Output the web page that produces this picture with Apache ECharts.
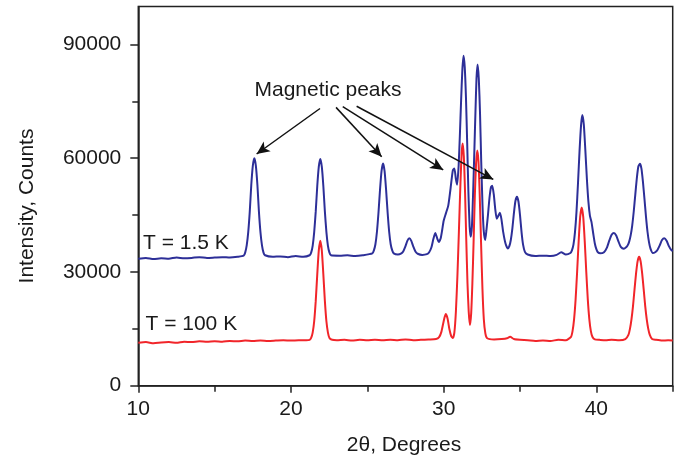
<!DOCTYPE html>
<html>
<head>
<meta charset="utf-8">
<script src="https://cdn.jsdelivr.net/npm/echarts@6/dist/echarts.min.js"></script>
<style>
html,body{margin:0;padding:0;background:#fff;}
#chart{width:681px;height:458px;}
</style>
</head>
<body>
<div id="chart"></div>
<script>
// ---- data ----
const xTickValues = [10, 20, 30, 40];
const xMinorTickValues = [15, 25, 35, 45];
const yTickValues = [0, 30000, 60000, 90000];
const yMinorTickValues = [15000, 45000, 75000];

const seriesNames = ['T = 1.5 K', 'T = 100 K'];

// T = 1.5 K  [2theta, counts]
const blue15K = [
  [10.0,33500],[10.5,33700],[11.0,33400],[11.5,33600],[12.0,33500],[12.5,33800],[13.0,33600],[13.5,33700],
  [14.0,33900],[14.5,33700],[15.0,33800],[15.5,33900],[16.0,33800],[16.5,34000],[16.9,34300],
  [17.0,35100],[17.1,37000],[17.2,40500],[17.3,45900],[17.4,53000],[17.5,58000],[17.6,60000],[17.7,58000],[17.8,53000],[17.9,45900],[18.0,40500],[18.1,37000],[18.2,35100],[18.3,34400],
  [18.8,34000],[19.3,34100],[19.8,33900],[20.3,34200],[20.8,34000],[21.22,34400],
  [21.32,35100],[21.42,36900],[21.52,40500],[21.62,45900],[21.72,52600],[21.82,57700],[21.92,59800],[22.02,57700],[22.12,52600],[22.22,45900],[22.32,40500],[22.42,36900],[22.52,35100],[22.62,34400],
  [23.2,34300],[23.7,34400],[24.2,34200],[24.7,34400],[25.33,34900],
  [25.43,35700],[25.53,37300],[25.63,40600],[25.73,45600],[25.83,51600],[25.93,56600],[26.03,58600],[26.13,56600],[26.23,51600],[26.33,45600],[26.43,40600],[26.53,37300],[26.63,35700],[26.73,34900],[27.0,34600],
  [27.2,34800],[27.35,35400],[27.5,36800],[27.62,38200],[27.75,38900],[27.88,38200],[28.0,36800],[28.15,35400],[28.3,34800],[28.6,34500],[28.9,34700],
  [29.05,35200],[29.2,36500],[29.32,38600],[29.45,40300],[29.58,38800],[29.68,37900],
  [29.8,38800],[29.9,41000],[30.0,43500],[30.15,45500],[30.3,47500],[30.45,52000],[30.6,56800],[30.7,57300],[30.8,54500],[30.88,53000],
  [30.98,58000],[31.06,66000],[31.14,75000],[31.22,83000],[31.3,87000],[31.38,84000],[31.46,76000],[31.54,64000],[31.62,51000],[31.7,42000],[31.77,39300],
  [31.85,42000],[31.93,51000],[32.01,62000],[32.08,72000],[32.15,81000],[32.22,84700],[32.3,81000],[32.38,72000],[32.46,59000],[32.54,48000],[32.62,41000],[32.72,38400],
  [32.8,41000],[32.9,45000],[33.0,49500],[33.1,52400],[33.18,52700],[33.28,50500],[33.38,46500],[33.48,44000],[33.58,44800],[33.68,45600],[33.78,44000],[33.9,40500],[34.05,37500],[34.2,36200],
  [34.3,36800],[34.4,38500],[34.5,41500],[34.6,45500],[34.7,48700],[34.8,49800],[34.9,48500],[35.0,45000],[35.1,40500],[35.2,37200],[35.32,35300],[35.5,34600],
  [36.0,34200],[36.5,34300],[37.0,34200],[37.4,34500],[37.7,35200],[38.0,34600],[38.3,35000],
  [38.4,35700],[38.5,37200],[38.6,40500],[38.7,45900],[38.8,53600],[38.9,62000],[39.0,68800],[39.08,71400],[39.18,68800],[39.28,62000],[39.38,54500],[39.48,48500],[39.58,44800],[39.68,43200],[39.8,40000],[39.9,37500],[40.0,36000],[40.1,35200],[40.25,34900],
  [40.5,35200],[40.7,36500],[40.85,38300],[41.0,39800],[41.15,40300],[41.3,39600],[41.45,38000],[41.6,36600],[41.8,36100],[41.95,36500],
  [42.05,37000],[42.15,38000],[42.25,39700],[42.35,42300],[42.45,46000],[42.55,50400],[42.65,54700],[42.75,57800],[42.85,58500],[42.95,57300],[43.05,53800],[43.15,49300],[43.25,44600],[43.35,40600],[43.45,37800],[43.55,36100],[43.7,35000],
  [43.85,35200],[44.0,35800],[44.15,37000],[44.3,38400],[44.45,38900],[44.6,38200],[44.75,36800],[44.9,35800],[45.0,35500]
];

// T = 100 K  [2theta, counts]
const red100K = [
  [10.0,11300],[10.5,11500],[11.0,11200],[11.5,11400],[12.0,11500],[12.5,11300],[13.0,11600],[13.5,11500],
  [14.0,11700],[14.5,11600],[15.0,11700],[15.5,11600],[16.0,11800],[16.5,11700],[17.0,11900],[17.5,11800],
  [18.0,11900],[18.5,11800],[19.0,11900],[19.5,12000],[20.0,11900],[20.5,12000],[21.0,12000],[21.22,12100],
  [21.32,12600],[21.42,14000],[21.52,17000],[21.62,22300],[21.72,29300],[21.82,35600],[21.92,38200],[22.02,35600],[22.12,29300],[22.22,22300],[22.32,17000],[22.42,14000],[22.52,12600],[22.7,12100],
  [23.0,12000],[23.5,12100],[24.0,11900],[24.5,12100],[25.0,12000],[25.5,12100],[26.0,12000],[26.5,12100],
  [27.0,12000],[27.5,12200],[28.0,12000],[28.5,12100],[29.0,12200],[29.5,12300],[29.7,12800],
  [29.85,14200],[30.0,17000],[30.13,18900],[30.25,17800],[30.38,14800],[30.5,13000],[30.6,12600],
  [30.7,14000],[30.8,19500],[30.9,29000],[31.0,41000],[31.1,53500],[31.18,61500],[31.24,63900],[31.32,60500],[31.4,51000],[31.48,38500],[31.56,27000],[31.64,19500],[31.72,16000],
  [31.8,19000],[31.88,27000],[31.96,38000],[32.04,50000],[32.12,58500],[32.2,62000],[32.28,59000],[32.36,50500],[32.45,37500],[32.54,25500],[32.63,17500],[32.73,13800],[32.85,12500],
  [33.3,12200],[33.8,12300],[34.15,12500],[34.35,12900],[34.6,12300],[35.0,12100],[35.5,12000],[36.0,11800],
  [36.5,11900],[37.0,11800],[37.5,12100],[38.0,12000],[38.34,12900],
  [38.44,14400],[38.54,17500],[38.64,22700],[38.74,30000],[38.84,38000],[38.94,44500],[39.04,47000],[39.14,44500],[39.24,38000],[39.34,30000],[39.44,22700],[39.54,17500],[39.64,14400],[39.74,12900],[39.9,12200],
  [40.2,12100],[40.6,12000],[41.0,12100],[41.5,12000],[41.9,12300],
  [42.1,13400],[42.2,15000],[42.3,17500],[42.4,21000],[42.5,25400],[42.6,29600],[42.7,32800],[42.8,34000],[42.9,32800],[43.0,29600],[43.1,25400],[43.2,21000],[43.3,17500],[43.4,15000],[43.5,13400],[43.65,12300],
  [43.9,12100],[44.3,11900],[44.7,12000],[45.0,11900]
];

// "Magnetic peaks" arrows, in data coordinates [2theta, counts]
const arrowStarts = [[21.9,73100],[22.95,73400],[23.39,73600],[24.3,73700]];
const arrowEnds   = [[17.75,61100],[25.94,60400],[29.97,56900],[33.25,54400]];

// ---- chart ----
const FONT = "'Liberation Sans', Arial, Helvetica, sans-serif";
const TXT = '#1a1a1a';
const chart = echarts.init(document.getElementById('chart'), null, {renderer: 'canvas'});

const arrowData = arrowStarts.map((s, i) => [{coord: s}, {coord: arrowEnds[i]}]);

chart.setOption({
  animation: false,
  backgroundColor: '#ffffff',
  grid: {left: 138.3, right: 8.3, top: 6.5, bottom: 72.3, show: true, borderColor: '#222', borderWidth: 1.5, backgroundColor: 'transparent'},
  xAxis: [{
    type: 'value', min: 10, max: 45, interval: 10,
    axisLine: {show: true, onZero: false, lineStyle: {color: '#222', width: 1.5}},
    axisTick: {show: true, inside: false, length: 7, customValues: xTickValues, lineStyle: {color: '#222', width: 1.5}},
    axisLabel: {show: true, customValues: xTickValues, margin: 13, color: TXT, fontSize: 21, fontFamily: FONT, formatter: v => String(v)},
    splitLine: {show: false}
  }, {
    type: 'value', min: 10, max: 45, interval: 10, position: 'bottom',
    axisLine: {show: false},
    axisTick: {show: true, length: 6, customValues: xMinorTickValues, lineStyle: {color: '#222', width: 1.5}},
    axisLabel: {show: false},
    splitLine: {show: false}
  }],
  yAxis: [{
    type: 'value', min: 0, max: 100000, interval: 30000,
    axisLine: {show: true, onZero: false, lineStyle: {color: '#222', width: 1.5}},
    axisTick: {show: true, length: 8, customValues: yTickValues, lineStyle: {color: '#222', width: 1.5}},
    axisLabel: {show: true, customValues: yTickValues, margin: 17, color: TXT, fontSize: 21, fontFamily: FONT, formatter: v => String(v)},
    splitLine: {show: false}
  }, {
    type: 'value', min: 0, max: 100000, interval: 30000, position: 'left',
    axisLine: {show: false},
    axisTick: {show: true, length: 6, customValues: yMinorTickValues, lineStyle: {color: '#222', width: 1.5}},
    axisLabel: {show: false},
    splitLine: {show: false}
  }],
  series: [{
    name: seriesNames[0], type: 'line', data: blue15K, xAxisIndex: 0, yAxisIndex: 0,
    showSymbol: false, smooth: 0.2, color: '#2d2f98',
    lineStyle: {color: '#2d2f98', width: 2}, z: 2,
    markLine: {
      silent: true, symbol: ['none', 'arrow'], symbolSize: [9, 13],
      label: {show: false},
      lineStyle: {color: '#111', width: 1.5, type: 'solid'},
      data: arrowData
    }
  }, {
    name: seriesNames[1], type: 'line', data: red100K, xAxisIndex: 0, yAxisIndex: 0,
    showSymbol: false, smooth: 0.2, color: '#f1252a',
    lineStyle: {color: '#f1252a', width: 2}, z: 3
  }],
  graphic: [
    {type: 'text', x: 328, y: 90, style: {text: 'Magnetic peaks', fontSize: 21, fontFamily: FONT, fill: TXT, align: 'center', verticalAlign: 'middle'}, z: 10},
    {type: 'text', x: 143, y: 243, style: {text: seriesNames[0], fontSize: 21, fontFamily: FONT, fill: TXT, align: 'left', verticalAlign: 'middle'}, z: 10},
    {type: 'text', x: 145.5, y: 324.5, style: {text: seriesNames[1], fontSize: 21, fontFamily: FONT, fill: TXT, align: 'left', verticalAlign: 'middle'}, z: 10},
    {type: 'text', x: 404, y: 445, style: {text: '2\u03b8, Degrees', fontSize: 21, fontFamily: FONT, fill: TXT, align: 'center', verticalAlign: 'middle'}, z: 10},
    {type: 'text', x: 27.5, y: 206, rotation: Math.PI / 2, style: {text: 'Intensity, Counts', fontSize: 21, fontFamily: FONT, fill: TXT, align: 'center', verticalAlign: 'middle'}, z: 10}
  ]
});
</script>
</body>
</html>
